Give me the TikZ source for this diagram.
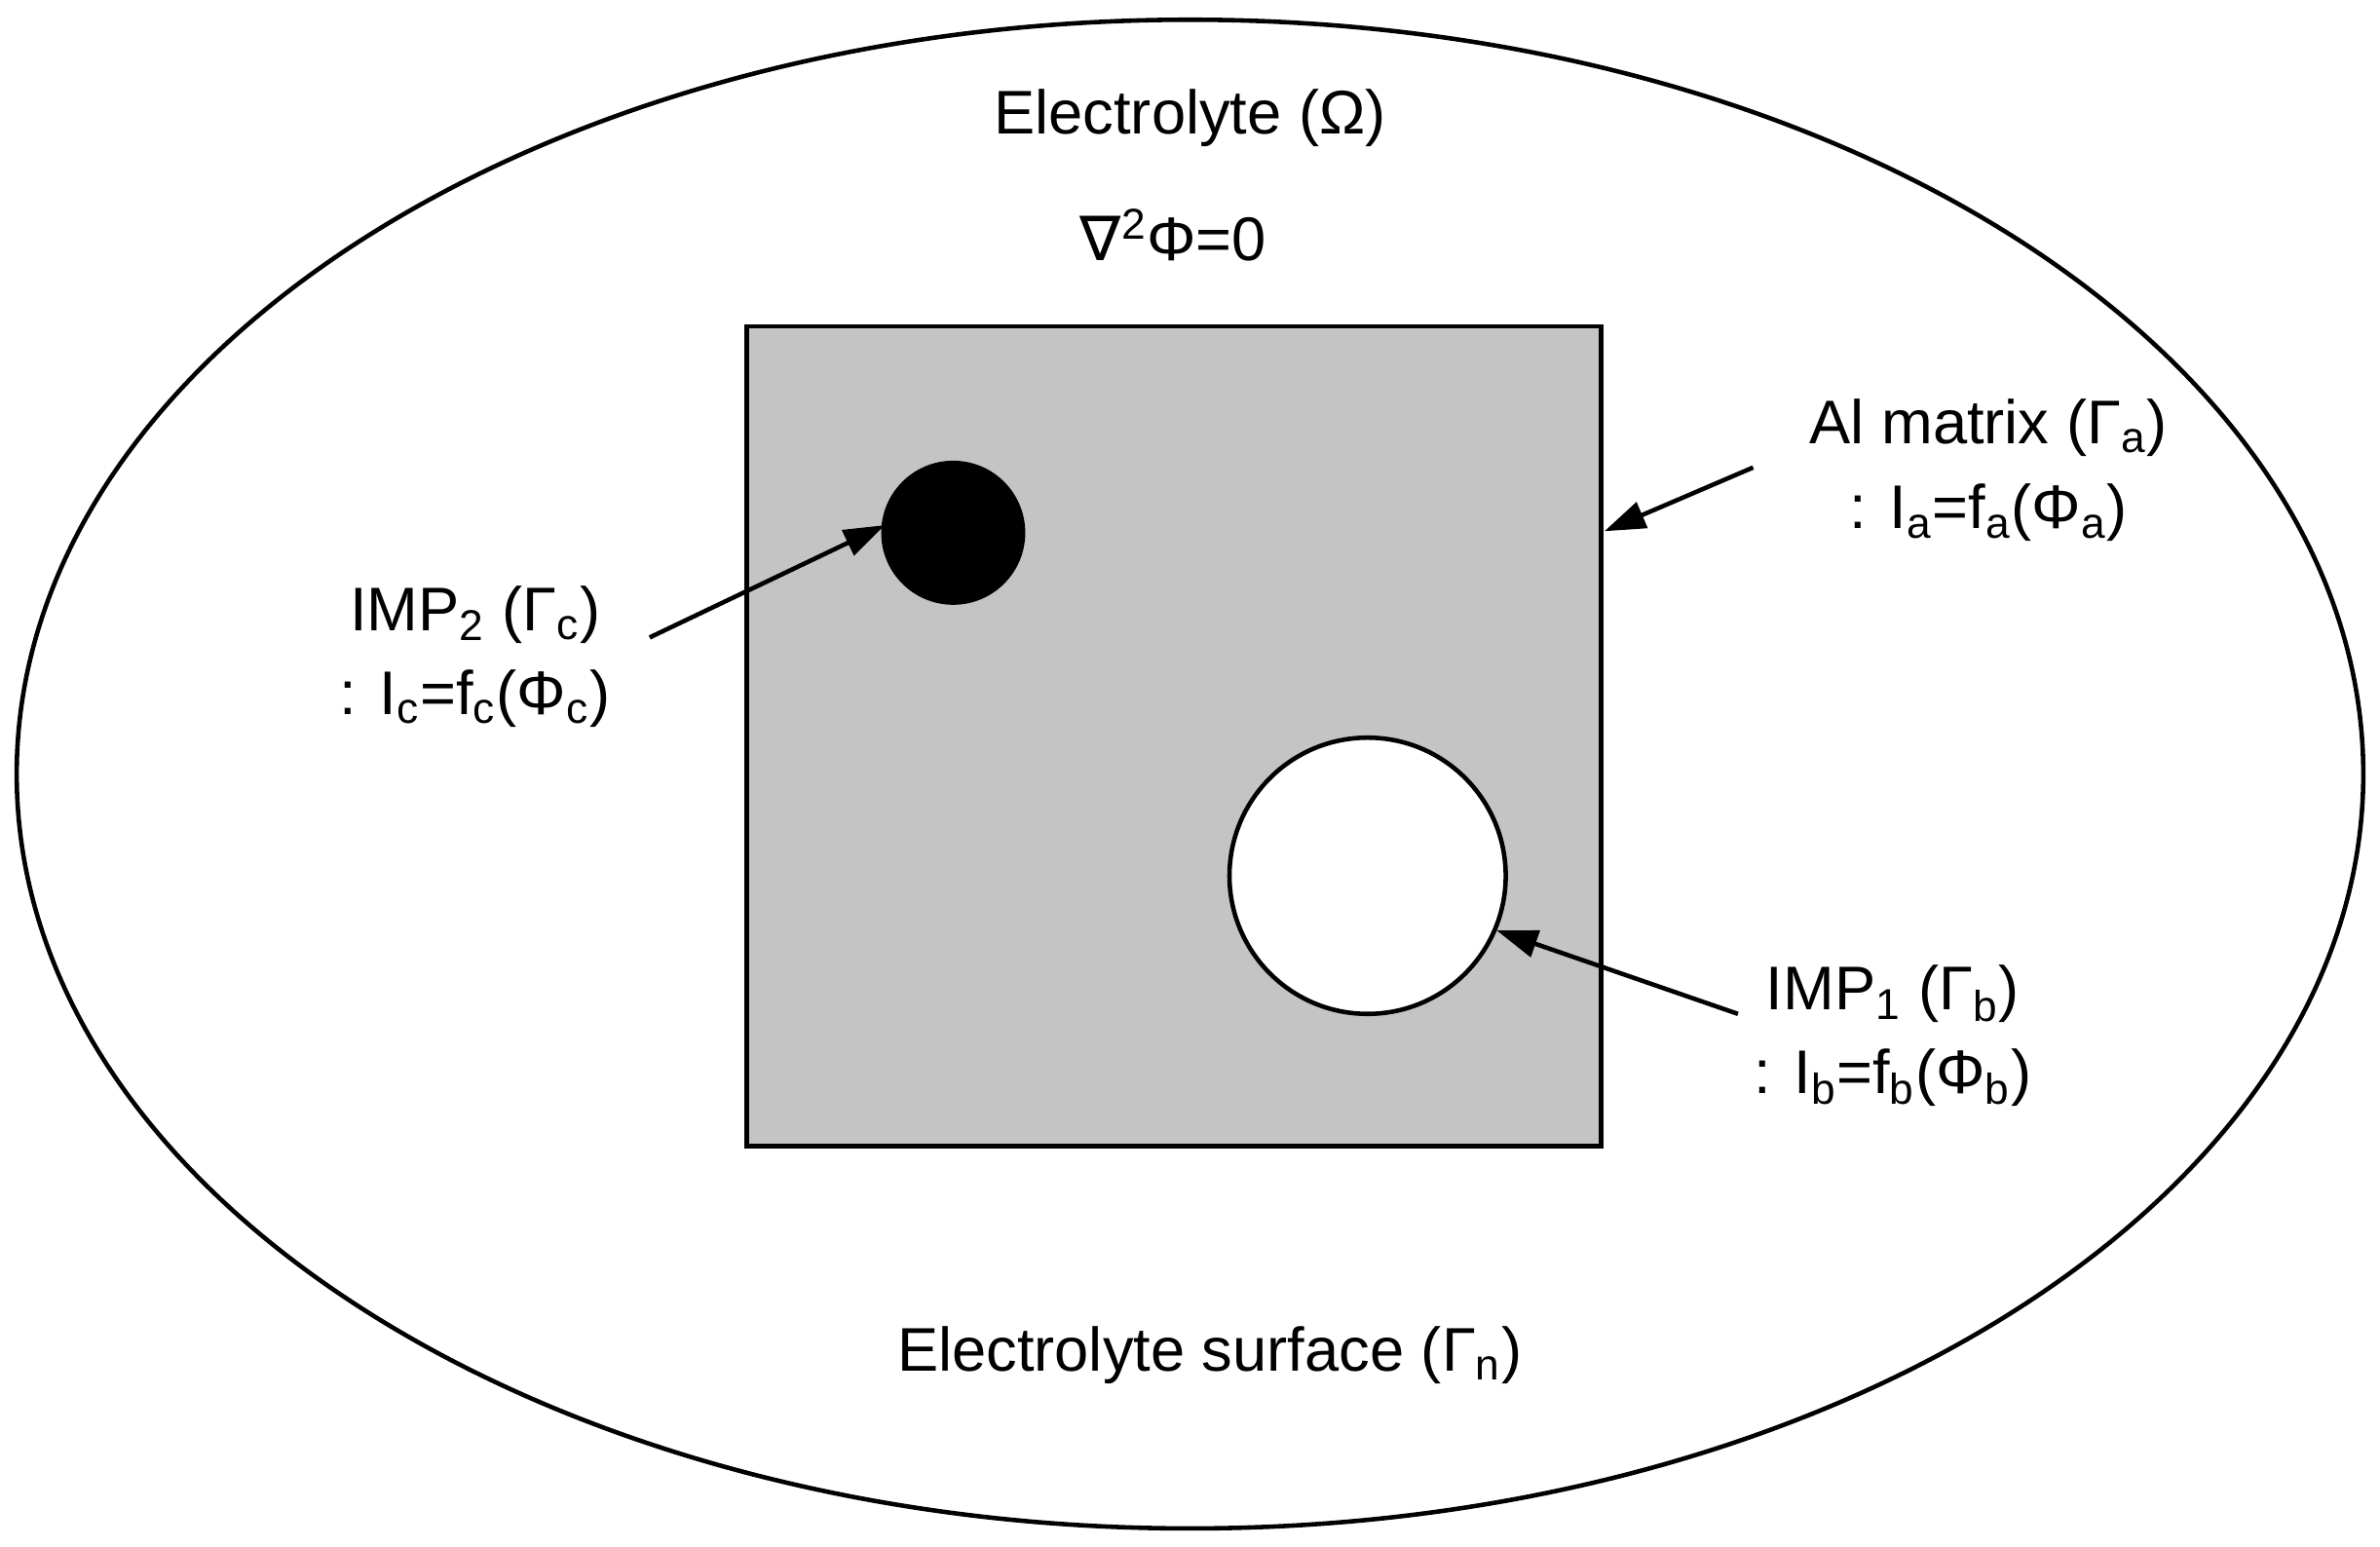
\documentclass[tikz,border=0pt]{standalone}
\usepackage{fontspec}
\setmainfont{Liberation Sans}
\newfontfamily\djv{DejaVu Sans}
\usetikzlibrary{arrows.meta}
\tikzset{lbl/.style={font=\fontsize{18}{22}\selectfont,inner sep=0pt},
 arr/.style={line width=1.3pt,-{Triangle[length=12pt,width=8pt]}},
 edge/.style={line width=1.3pt}}
\begin{document}
\begin{tikzpicture}[x=0.01558cm,y=-0.01558cm]
\useasboundingbox (0,0) rectangle (1568,1019);
\draw[edge] (784,510) ellipse [x radius=773, y radius=497];
\draw[edge,fill={rgb,255:red,196;green,196;blue,196}] (492,215) rectangle (1055,755);
\path[edge,fill=black,draw] (628,351) circle [radius=46];
\path[edge,fill=white,draw] (901,577) circle [radius=91];
\coordinate (blkE) at (583,346);
\coordinate (whtE) at (986,613);
\coordinate (sqE) at (1057,350);
\node[lbl] (el) at (784,78) {Electrolyte (Ω)};
\node[lbl] (lap) at (773,155) {{\djv ∇}\textsuperscript{2}Φ=0};
\node[lbl] (al1) at (1310,282) {Al matrix (Γ\textsubscript{a})};
\node[lbl] (al2) at (1310,338) {: I\textsubscript{a}=f\textsubscript{a}(Φ\textsubscript{a})};
\node[lbl] (i21) at (313,405) {IMP\textsubscript{2} (Γ\textsubscript{c})};
\node[lbl] (i22) at (313,460) {: I\textsubscript{c}=f\textsubscript{c}(Φ\textsubscript{c})};
\node[lbl] (i11) at (1247,655) {IMP\textsubscript{1} (Γ\textsubscript{b})};
\node[lbl] (i12) at (1247,710) {: I\textsubscript{b}=f\textsubscript{b}(Φ\textsubscript{b})};
\node[lbl] (surf) at (797,893) {Electrolyte surface (Γ\textsubscript{n})};
\coordinate (a1) at (1155,308);
\coordinate (a2) at (428,420);
\coordinate (a3) at (1145,668);
\draw[arr] (a1) -- (sqE);
\draw[arr] (a2) -- (blkE);
\draw[arr] (a3) -- (whtE);
\end{tikzpicture}
\end{document}
